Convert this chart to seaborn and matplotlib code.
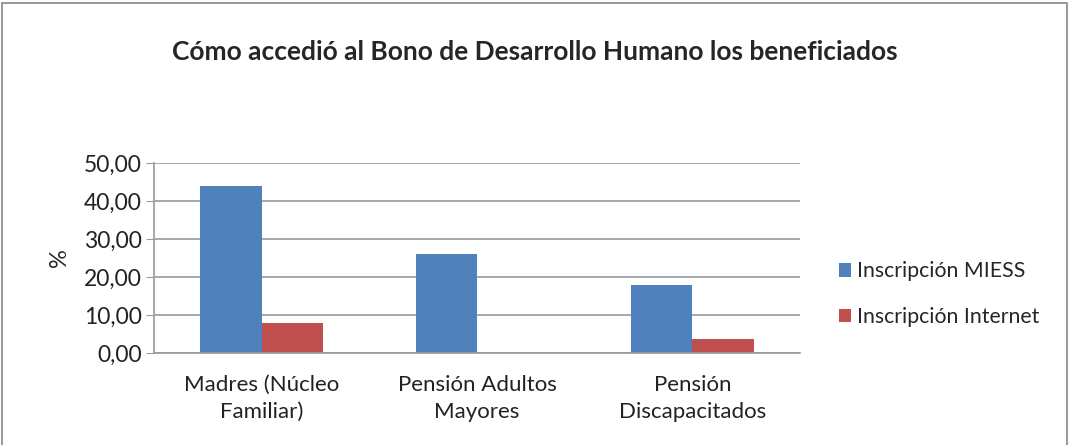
import pandas as pd
import seaborn as sns
from matplotlib import pyplot as plt
from matplotlib.patches import Rectangle

categorias = ['Madres (Núcleo\nFamiliar)', 'Pensión Adultos\nMayores', 'Pensión\nDiscapacitados']
miess = [44.0, 26.0, 17.9]
internet = [7.8, 0.0, 3.7]
series = ['Inscripción MIESS', 'Inscripción Internet']
colores = ['#4F81BD', '#C0504D']

datos = pd.DataFrame({
    'categoria': categorias * 2,
    'serie': [series[0]] * 3 + [series[1]] * 3,
    'valor': miess + internet,
})

sns.set_style('white')
plt.rcParams['font.family'] = ['Lato', 'DejaVu Sans']

fig = plt.figure(figsize=(10.69, 4.45), dpi=100)
ax = fig.add_axes([154 / 1069, 1 - 353 / 445, (800 - 154) / 1069, (353 - 163) / 445])

sns.barplot(data=datos, x='categoria', y='valor', hue='serie', palette=colores,
            width=0.57, ax=ax, legend=True, saturation=1, linewidth=0)

ax.set_ylim(0, 50)
ax.set_yticks([0, 10, 20, 30, 40, 50])
ax.set_yticklabels(['0,00', '10,00', '20,00', '30,00', '40,00', '50,00'], fontsize=16.5, color='#222222')
ax.yaxis.grid(True, color='#9a9a9a', linewidth=1.2)
ax.set_axisbelow(True)
ax.set_xlabel('')
ax.set_ylabel('%', fontsize=17, labelpad=10)
ax.tick_params(axis='x', labelsize=16, colors='#222222', pad=12)
ax.tick_params(axis='y', length=6, color='#9a9a9a', left=True, pad=3)
ax.set_xlim(-0.5, 2.5)
for lado in ['top', 'right']:
    ax.spines[lado].set_visible(False)
ax.spines['left'].set_color('#9a9a9a')
ax.spines['bottom'].set_color('#9a9a9a')
ax.spines['left'].set_linewidth(1.2)
ax.spines['bottom'].set_linewidth(1.2)
for t in ax.get_xticklabels():
    t.set_linespacing(1.45)

ax.legend(loc='center left', bbox_to_anchor=(1.03, 0.31), frameon=False,
          fontsize=15.3, handlelength=0.6, handleheight=0.6, handletextpad=0.25,
          labelspacing=1.2)

fig.text(0.5, 1 - 52 / 445, 'Cómo accedió al Bono de Desarrollo Humano los beneficiados',
         ha='center', va='center', fontsize=19, fontweight='bold')

fig.patches.append(Rectangle((2 / 1069, -0.05), 1065 / 1069, 1.05 - 3 / 445, transform=fig.transFigure,
                             fill=False, edgecolor='#888888', linewidth=1.2))

fig.savefig('out.png', dpi=100)
